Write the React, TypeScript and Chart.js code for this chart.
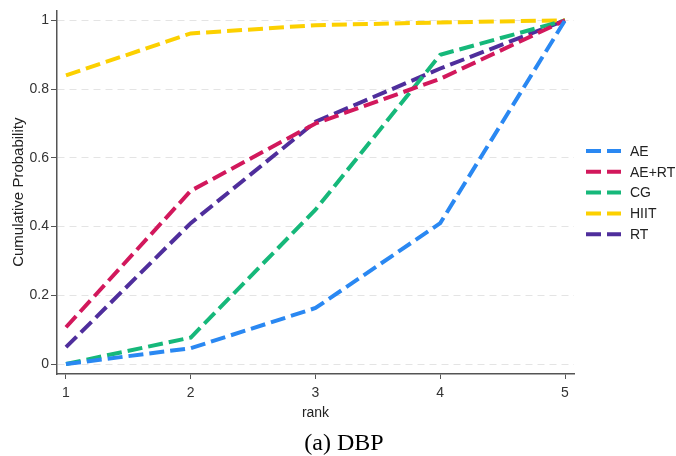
import React, { useEffect, useRef } from "react";
import { Chart, registerables } from "chart.js";

Chart.register(...registerables);

const ranks = [1, 2, 3, 4, 5];
const seriesNames = ["AE", "AE+RT", "CG", "HIIT", "RT"];
const aeValues = [0, 0.046, 0.163, 0.41, 1];
const aeRtValues = [0.107, 0.504, 0.7, 0.83, 1];
const cgValues = [0, 0.077, 0.449, 0.9, 1];
const hiitValues = [0.84, 0.962, 0.986, 0.994, 1];
const rtValues = [0.049, 0.41, 0.705, 0.86, 1];
const yTicks = [0, 0.2, 0.4, 0.6, 0.8, 1];
const colors = ["#2a88f2", "#d2185c", "#16b87a", "#fcd000", "#4f2e9c"];

const seriesValues = [aeValues, aeRtValues, cgValues, hiitValues, rtValues];

const DASH = [15, 6];
const FONT = "'Liberation Sans', Arial, sans-serif";

const legendPlugin = {
  id: "customLegend",
  afterDraw(chart: any) {
    const ctx = chart.ctx;
    ctx.save();
    const x0 = 586;
    const y0 = 151;
    const step = 20.8;
    chart.data.datasets.forEach((ds: any, i: number) => {
      const y = y0 + i * step;
      ctx.beginPath();
      ctx.strokeStyle = ds.borderColor;
      ctx.lineWidth = 4;
      ctx.setLineDash([15, 6]);
      ctx.moveTo(x0, y);
      ctx.lineTo(x0 + 35, y);
      ctx.stroke();
      ctx.setLineDash([]);
      ctx.fillStyle = "#222";
      ctx.font = "14px " + FONT;
      ctx.textAlign = "left";
      ctx.textBaseline = "middle";
      ctx.fillText(ds.label, 630, y + 1);
    });
    ctx.fillStyle = "#000";
    ctx.font = "24px 'Liberation Serif', 'Times New Roman', serif";
    ctx.textAlign = "center";
    ctx.textBaseline = "alphabetic";
    ctx.fillText("(a) DBP", 344, 450);
    ctx.restore();
  },
};

export default function App() {
  const ref = useRef<HTMLCanvasElement>(null);
  useEffect(() => {
    document.body.style.margin = "0";
    const canvas = ref.current!;
    const chart = new Chart(canvas, {
      type: "line",
      data: {
        datasets: seriesNames.map((name, i) => ({
          label: name,
          data: ranks.map((r, j) => ({ x: r, y: seriesValues[i][j] })),
          borderColor: colors[i],
          backgroundColor: colors[i],
          borderWidth: 4,
          borderDash: DASH,
          pointRadius: 0,
          tension: 0,
          fill: false,
        })),
      },
      options: {
        animation: false,
        responsive: false,
        devicePixelRatio: 1,
        layout: { padding: { left: 0, top: 9, right: 102, bottom: 0 } },
        plugins: {
          legend: { display: false },
          tooltip: { enabled: false },
          title: { display: false },
        },
        scales: {
          x: {
            type: "linear",
            min: 0.928,
            max: 5.072,
            afterBuildTicks: (scale: any) => {
              scale.ticks = ranks.map((v) => ({ value: v }));
            },
            afterFit: (scale: any) => {
              scale.height = 82;
            },
            grid: {
              drawOnChartArea: false,
              drawTicks: true,
              tickLength: 5,
              tickColor: "#555",
              tickWidth: 1,
            },
            border: { display: true, color: "#555", width: 1.5 },
            ticks: {
              color: "#333",
              padding: 6,
              font: { size: 14, family: FONT },
              callback: (v: any) => String(v),
            },
            title: {
              display: true,
              text: "rank",
              color: "#222",
              font: { size: 14, family: FONT },
              padding: { top: 0, bottom: 34 },
            },
          },
          y: {
            type: "linear",
            min: -0.029,
            max: 1.029,
            afterBuildTicks: (scale: any) => {
              scale.ticks = yTicks.map((v) => ({ value: v }));
            },
            afterFit: (scale: any) => {
              scale.width = 57;
            },
            grid: {
              drawOnChartArea: true,
              color: "#e4e4e4",
              lineWidth: 1,
              drawTicks: true,
              tickLength: 6,
              tickColor: "#555",
              tickWidth: 1,
            },
            border: { display: true, color: "#555", width: 1.5, dash: [7, 5] },
            ticks: {
              color: "#333",
              padding: 2,
              font: { size: 14, family: FONT },
              callback: (v: any) => String(Math.round(v * 10) / 10),
            },
            title: {
              display: true,
              text: "Cumulative Probability",
              color: "#222",
              font: { size: 15, family: FONT },
              padding: { top: 10, bottom: 0 },
            },
          },
        },
      },
      plugins: [legendPlugin],
    } as any);
    return () => chart.destroy();
  }, []);
  return (
    <div style={{ width: 676, height: 456 }}>
      <canvas ref={ref} width={676} height={456} style={{ display: "block" }} />
    </div>
  );
}
